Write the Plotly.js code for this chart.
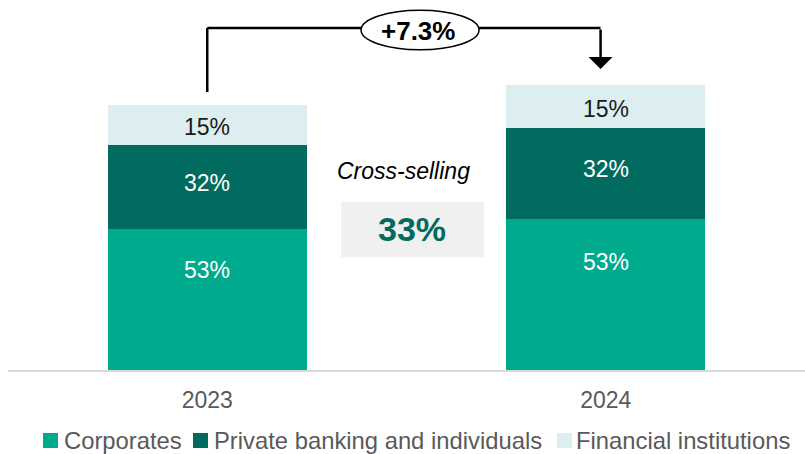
<!DOCTYPE html>
<html>
<head>
<meta charset="utf-8">
<script src="https://cdn.plot.ly/plotly-3.0.1.min.js"></script>
<style>html,body{margin:0;padding:0;background:#fff;}#chart{width:805px;height:454px;}</style>
</head>
<body>
<div id="chart"></div>
<script>
// Data
const years = ['2023', '2024'];
const totalIndex = [100, 107.3];          // 2023 = 100, +7.3% growth
const seriesNames = ['Corporates', 'Private banking and individuals', 'Financial institutions'];
const corporatesShare = [53, 53];
const privateShare = [32, 32];
const financialShare = [15, 15];
const growthLabel = '+7.3%';
const crossSellingLabel = 'Cross-selling';
const crossSelling = '33%';

const corporates = totalIndex.map((t, i) => t * corporatesShare[i] / 100);
const privateB = totalIndex.map((t, i) => t * privateShare[i] / 100);
const financial = totalIndex.map((t, i) => t * financialShare[i] / 100);

const FONT = 'Liberation Sans, Arial, sans-serif';
const colors = ['#00AA8D', '#006B5E', '#DCEEF0'];
const series = [corporates, privateB, financial];
const shares = [corporatesShare, privateShare, financialShare];
const labelColors = ['#ffffff', '#ffffff', '#1a1a1a'];
const labelFrac = [0.715, 0.55, 0.45];

const traces = series.map((vals, k) => ({
  type: 'bar', name: seriesNames[k], x: years, y: vals,
  marker: {color: colors[k], line: {width: 0}}, width: 0.5,
  hoverinfo: 'skip', textposition: 'none', showlegend: false
}));

const annotations = [];
const shapes = [];

// segment labels
years.forEach((yr, i) => {
  let base = 0;
  series.forEach((vals, k) => {
    annotations.push({x: i, y: base + vals[i] * labelFrac[k], xref: 'x', yref: 'y',
      xanchor: 'center', yanchor: 'middle',
      text: shares[k][i] + '%', showarrow: false,
      font: {family: FONT, size: 23, color: labelColors[k]}});
    base += vals[i];
  });
});

// Cross-selling box and text
shapes.push({type: 'rect', xref: 'x', yref: 'paper', x0: 0.336, x1: 0.695, y0: 0.323, y1: 0.48,
  fillcolor: '#F0F0F0', line: {width: 0}, layer: 'below'});
annotations.push({x: 0.493, y: 0.568, xref: 'x', yref: 'paper', xanchor: 'center', yanchor: 'middle',
  text: '<i>' + crossSellingLabel + '</i>', showarrow: false,
  font: {family: FONT, size: 23, color: '#000000'}});
annotations.push({x: 0.513, y: 0.403, xref: 'x', yref: 'paper', xanchor: 'center', yanchor: 'middle',
  text: '<b>' + crossSelling + '</b>', showarrow: false,
  font: {family: FONT, size: 34, color: '#006B5E'}});

// Growth connector
const arrowX = 0.987;
shapes.push({type: 'line', xref: 'x', yref: 'paper', x0: 0, x1: 0, y0: 0.794, y1: 0.977,
  line: {color: '#000', width: 2.5}});
shapes.push({type: 'line', xref: 'x', yref: 'paper', x0: 0, x1: arrowX, y0: 0.977, y1: 0.977,
  line: {color: '#000', width: 2.5}});
shapes.push({type: 'circle', xref: 'x', yref: 'paper', x0: 0.386, x1: 0.682, y0: 0.915, y1: 1.028,
  fillcolor: '#ffffff', line: {color: '#000', width: 1.5}});
annotations.push({x: 0.529, y: 0.969, xref: 'x', yref: 'paper', xanchor: 'center', yanchor: 'middle',
  text: '<b>' + growthLabel + '</b>', showarrow: false,
  font: {family: FONT, size: 26, color: '#000000'}});
annotations.push({x: arrowX, y: 0.860, xref: 'x', yref: 'paper',
  ax: arrowX, ay: 0.977, axref: 'x', ayref: 'paper',
  showarrow: true, arrowhead: 1, arrowsize: 1.6, arrowwidth: 2.5, arrowcolor: '#000', text: ''});

// Custom legend (compact, like the original)
const legendSquareX = [43, 193, 557];
const legendTextX = [62, 212, 574];
const plotL = 8, plotW = 797, plotB = 370, plotH = 350;
seriesNames.forEach((nm, k) => {
  shapes.push({type: 'rect', xref: 'paper', yref: 'paper',
    x0: (legendSquareX[k] - plotL) / plotW, x1: (legendSquareX[k] + 15 - plotL) / plotW,
    y0: (plotB - 448) / plotH, y1: (plotB - 433) / plotH,
    fillcolor: colors[k], line: {width: 0}});
  annotations.push({x: (legendTextX[k] - plotL) / plotW, y: (plotB - 440) / plotH,
    xref: 'paper', yref: 'paper', xanchor: 'left', yanchor: 'middle',
    text: nm, showarrow: false,
    font: {family: FONT, size: 23.8, color: '#595959'}});
});

const layout = {
  width: 805, height: 454,
  margin: {l: plotL, r: 0, t: 20, b: 84},
  paper_bgcolor: '#ffffff', plot_bgcolor: '#ffffff',
  barmode: 'stack',
  showlegend: false,
  xaxis: {type: 'category', range: [-0.5, 1.5], showgrid: false, zeroline: false,
    showline: true, linecolor: '#D9D9D9', linewidth: 2, ticks: '',
    ticklabelstandoff: 8,
    tickfont: {family: FONT, size: 23, color: '#595959'}},
  yaxis: {range: [0, 132], visible: false, showgrid: false, zeroline: false},
  annotations: annotations,
  shapes: shapes,
  font: {family: FONT}
};

Plotly.newPlot('chart', traces, layout, {displayModeBar: false, staticPlot: true});
</script>
</body>
</html>
